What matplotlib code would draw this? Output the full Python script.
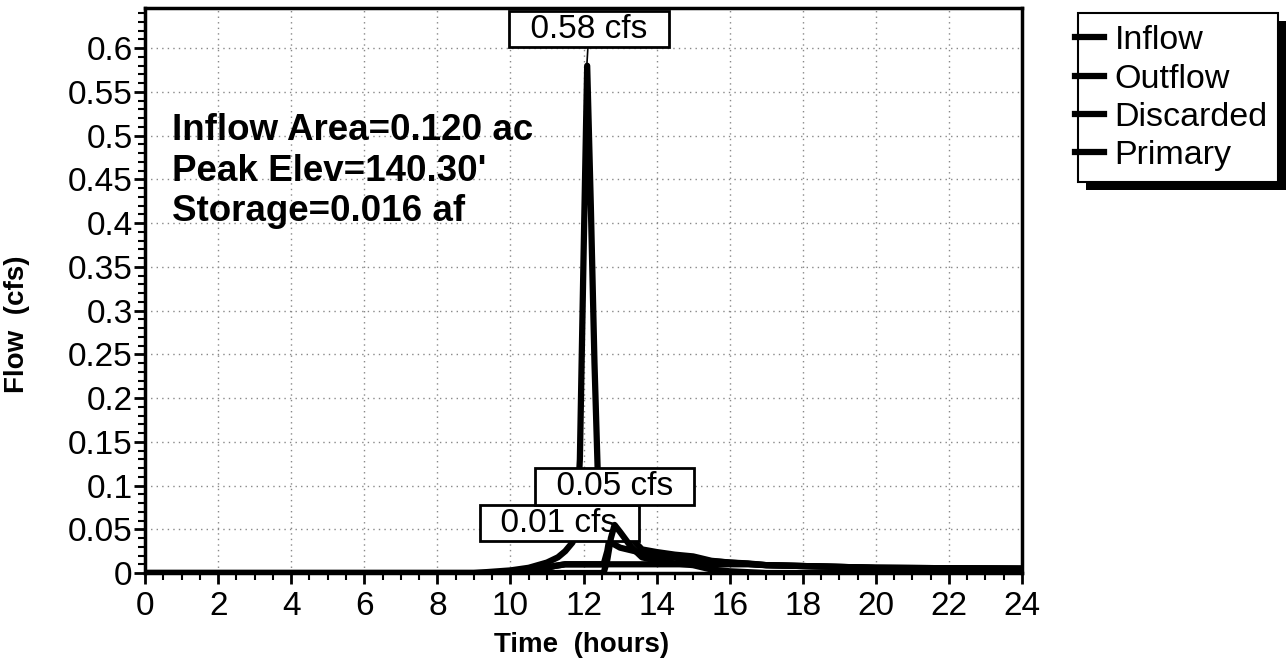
import matplotlib
matplotlib.use("Agg")
import matplotlib.pyplot as plt
from matplotlib.patches import Rectangle
from matplotlib.ticker import MultipleLocator, FuncFormatter

plt.rcParams['font.family'] = ['Liberation Sans', 'DejaVu Sans']

# hydrograph values (hours, cfs)
inflow_t = [0, 9.0, 10.0, 10.5, 11.0, 11.3, 11.5, 11.7, 11.8, 11.9, 12.0, 12.1,
            12.2, 12.3, 12.4, 12.5, 12.7, 13.0, 13.5, 14.0, 15.0, 16.0, 17.0,
            18.0, 20.0, 24.0]
inflow_q = [0, 0, 0.003, 0.006, 0.012, 0.018, 0.025, 0.035, 0.05, 0.13, 0.36, 0.58,
            0.42, 0.24, 0.10, 0.05, 0.036, 0.029, 0.024, 0.02, 0.015, 0.012, 0.009,
            0.008, 0.006, 0.005]

discarded_t = [0, 10.3, 10.8, 11.2, 11.5, 16.5, 17.0, 18.0, 20.0, 24.0]
discarded_q = [0, 0, 0.004, 0.008, 0.01, 0.01, 0.009, 0.008, 0.006, 0.005]

primary_t = [0, 12.55, 12.65, 12.75, 12.85, 13.0, 13.3, 13.6, 14.0, 14.5, 15.0,
             15.5, 16.0, 16.5, 17.0, 24.0]
primary_q = [0, 0, 0.015, 0.04, 0.055, 0.047, 0.03, 0.018, 0.014, 0.011, 0.009,
             0.004, 0.002, 0.001, 0, 0]

outflow_t = [0, 10.3, 10.8, 11.2, 11.5, 12.55, 12.65, 12.75, 12.85, 13.0, 13.3,
             13.6, 14.0, 14.5, 15.0, 15.5, 16.0, 16.5, 17.0, 18.0, 20.0, 24.0]
outflow_q = [0, 0, 0.004, 0.008, 0.01, 0.01, 0.025, 0.05, 0.064, 0.057, 0.04,
             0.027, 0.024, 0.021, 0.019, 0.014, 0.012, 0.011, 0.009, 0.008,
             0.006, 0.005]

peak_labels = ["0.58 cfs", "0.05 cfs", "0.01 cfs"]
info_lines = ["Inflow Area=0.120 ac", "Peak Elev=140.30'", "Storage=0.016 af"]
legend_names = ["Inflow", "Outflow", "Discarded", "Primary"]

fig = plt.figure(figsize=(12.86, 6.66), dpi=100)
ax = fig.add_axes([0.1128, 0.1396, 0.6819, 0.8484])

lw = 4.5
l1, = ax.plot(inflow_t, inflow_q, color='k', lw=lw, zorder=2.0, solid_joinstyle='round')
l2, = ax.plot(outflow_t, outflow_q, color='k', lw=lw, zorder=2.2, solid_joinstyle='round')
l3, = ax.plot(discarded_t, discarded_q, color='k', lw=lw, zorder=2.4, solid_joinstyle='round')
l4, = ax.plot(primary_t, primary_q, color='k', lw=lw, zorder=2.6, solid_joinstyle='round')

ax.set_xlim(0, 24)
ax.set_ylim(0, 0.646)
ax.xaxis.set_major_locator(MultipleLocator(2))
ax.xaxis.set_minor_locator(MultipleLocator(0.5))
ax.yaxis.set_major_locator(MultipleLocator(0.05))
ax.yaxis.set_minor_locator(MultipleLocator(0.01))
ax.yaxis.set_major_formatter(FuncFormatter(lambda v, p: f"{round(v, 2):g}"))

ax.tick_params(which='major', direction='out', length=8, width=2, labelsize=24, pad=1)
ax.tick_params(axis='x', which='major', pad=5)
ax.tick_params(which='minor', direction='out', length=5, width=1.5)
for s in ax.spines.values():
    s.set_linewidth(2.5)
ax.grid(True, which='major', color='#888888', lw=1, linestyle=(0, (1, 3)))
ax.set_axisbelow(True)

ax.set_xlabel("Time  (hours)", fontsize=20, fontweight='bold')
ax.set_ylabel("Flow  (cfs)", fontsize=20, fontweight='bold')
ax.xaxis.set_label_coords(0.498, -0.104)
ax.yaxis.set_label_coords(-0.131, 0.44)

for i, line in enumerate(info_lines):
    ax.text(0.031, 0.784 - i * 0.0725, line, transform=ax.transAxes, fontsize=26.5,
            fontweight='bold', va='center', ha='left')

box = dict(boxstyle='square,pad=0.08', fc='white', ec='black', lw=2)
ax.annotate("  " + peak_labels[0] + "  ", xy=(12.09, 0.58), xytext=(12.15, 0.6217),
            ha='center', va='center', fontsize=24, bbox=box, zorder=2.1,
            arrowprops=dict(arrowstyle='-', color='k', lw=1.2, shrinkA=0, shrinkB=0))
ax.text(11.33, 0.0571, "  " + peak_labels[2] + "  ", ha='center', va='center',
        fontsize=24, bbox=box, zorder=2.5)
ax.text(12.86, 0.0989, "  " + peak_labels[1] + "  ", ha='center', va='center',
        fontsize=24, bbox=box, zorder=2.7)

# legend with a hard black shadow
W, H = 1286, 666
fig.patches.append(Rectangle((1086 / W, 1 - 190 / H), 200 / W, 169 / H,
                             transform=fig.transFigure, fc='black', ec='none', zorder=0))
fig.patches.append(Rectangle((1078 / W, 1 - 182 / H), 200 / W, 169 / H,
                             transform=fig.transFigure, fc='white', ec='black', lw=1.5, zorder=1))
fig.legend([l1, l2, l3, l4], legend_names, loc='upper left',
           bbox_to_anchor=(1072 / W, 1 - 22 / H), frameon=False, fontsize=24.5,
           handlelength=0.85, handletextpad=0.3, labelspacing=0.21, borderpad=0.1,
           borderaxespad=0)

fig.savefig("out.png", dpi=100)
